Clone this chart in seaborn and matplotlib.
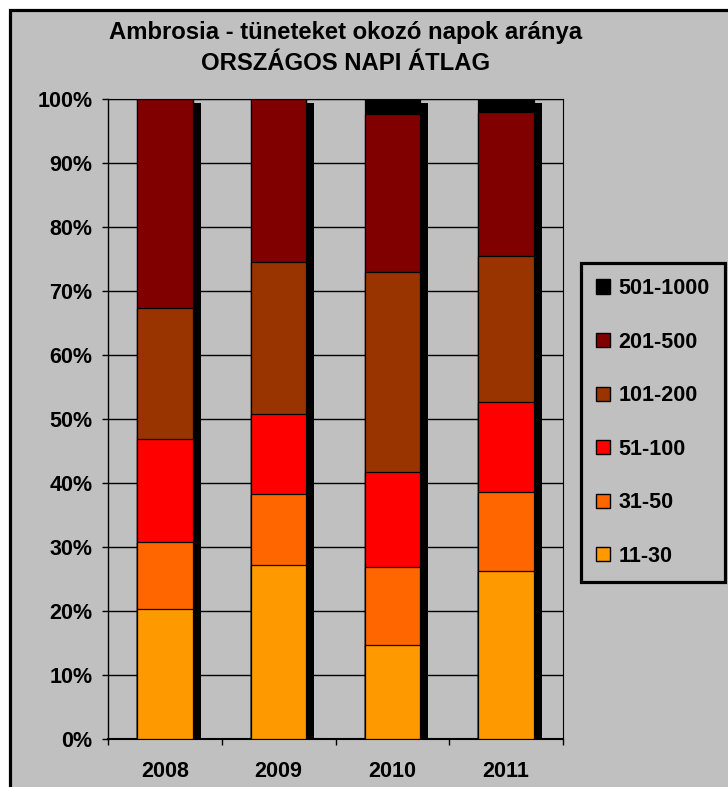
import numpy as np
import pandas as pd
import matplotlib
matplotlib.use("Agg")
import matplotlib.pyplot as plt
import matplotlib.patheffects as pe
from matplotlib.patches import Patch, Rectangle
from matplotlib.ticker import FixedLocator
import seaborn as sns

# ---- data (percent of days) ----
years = ["2008", "2009", "2010", "2011"]
series_names = ["11-30", "31-50", "51-100", "101-200", "201-500", "501-1000"]
s11_30 = [20.4, 27.3, 14.8, 26.3]
s31_50 = [10.4, 11.0, 12.2, 12.3]
s51_100 = [16.2, 12.6, 14.7, 14.1]
s101_200 = [20.4, 23.7, 31.3, 22.8]
s201_500 = [32.6, 25.4, 24.7, 22.5]
s501_1000 = [0.0, 0.0, 2.3, 2.0]
colors = ["#FF9900", "#FF6600", "#FF0000", "#993300", "#800000", "#000000"]
title1 = "Ambrosia - tüneteket okozó napok aránya"
title2 = "ORSZÁGOS NAPI ÁTLAG"
ytick_vals = list(range(0, 101, 10))
ytick_labels = [f"{v}%" for v in ytick_vals]

df = pd.DataFrame({"year": years, "11-30": s11_30, "31-50": s31_50,
                   "51-100": s51_100, "101-200": s101_200,
                   "201-500": s201_500, "501-1000": s501_1000})
cum = df[series_names].cumsum(axis=1)

sns.set_theme(style="white")
plt.rcParams["font.family"] = ["Liberation Sans", "DejaVu Sans"]
plt.rcParams["font.weight"] = "bold"
plt.rcParams["text.color"] = "black"
plt.rcParams["xtick.color"] = "black"
plt.rcParams["ytick.color"] = "black"
FS = 15.5
TFS = 17.2
GRAY = "#C0C0C0"

fig = plt.figure(figsize=(7.28, 7.87), dpi=100, facecolor="white")
# outer chart area with border (top/left visible)
fig.patches.append(Rectangle((9.5 / 728, -0.1), 1.2, 0.1 + (787 - 9.5) / 787,
                             transform=fig.transFigure, facecolor=GRAY,
                             edgecolor="black", linewidth=2.3, zorder=-5))

ax = fig.add_axes([108 / 728, 47.7 / 787, (563 - 108) / 728, 640 / 787])
ax.set_zorder(1)
ax.set_facecolor(GRAY)

# stacked bars: draw cumulative totals from the top series down
for i, name in enumerate(reversed(series_names)):
    col = colors[series_names.index(name)]
    n_before = len(ax.patches)
    sns.barplot(x=df["year"], y=cum[name], color=col, saturation=1,
                width=0.49, edgecolor="black", linewidth=0.9,
                errorbar=None, ax=ax, zorder=3)
    if i == 0:
        for p in ax.patches[n_before:]:
            p.set_path_effects([pe.SimplePatchShadow(offset=(5.6, -3),
                                                     shadow_rgbFace="black",
                                                     alpha=1.0),
                                pe.Normal()])

ax.set_xlim(-0.5, len(years) - 0.5)
ax.set_ylim(0, 100)
ax.set_xlabel("")
ax.set_ylabel("")
ax.set_yticks(ytick_vals)
ax.set_yticklabels(ytick_labels, fontsize=FS, fontweight="bold")
ax.set_xticks(range(len(years)))
ax.set_xticklabels(years, fontsize=FS, fontweight="bold")
ax.xaxis.set_minor_locator(FixedLocator(np.arange(-0.5, len(years), 1.0)))
ax.tick_params(axis="x", which="major", length=0, pad=15.5, colors="black")
ax.tick_params(axis="x", which="minor", length=4.5, width=1.0,
               direction="out", color="black", bottom=True)
ax.tick_params(axis="y", which="major", length=4.5, width=1.0,
               direction="out", color="black", left=True, pad=6.5)
ax.yaxis.grid(True, color="black", linewidth=1.0, zorder=0)
ax.set_axisbelow(True)
for side, lw in [("left", 1.0), ("bottom", 1.5), ("top", 0.8), ("right", 0.8)]:
    ax.spines[side].set_visible(True)
    ax.spines[side].set_color("black")
    ax.spines[side].set_linewidth(lw)

# titles
fig.text(346 / 728, 1 - 32 / 787, title1, ha="center", va="center",
         fontsize=TFS, fontweight="bold", color="black")
fig.text(346 / 728, 1 - 63 / 787, title2, ha="center", va="center",
         fontsize=TFS, fontweight="bold", color="black")

# legend (top series first)
handles = [Patch(facecolor=colors[series_names.index(n)], edgecolor="black",
                 linewidth=1.0, label=n) for n in reversed(series_names)]
leg = fig.legend(handles=handles, loc="center",
                 bbox_to_anchor=(653 / 728, 1 - 422.5 / 787),
                 prop={"size": FS, "weight": "bold"},
                 handlelength=0.65, handleheight=0.65, handletextpad=0.4,
                 labelspacing=1.51, borderpad=0.7, frameon=True,
                 fancybox=False, framealpha=1.0)
leg.get_frame().set_facecolor(GRAY)
leg.get_frame().set_edgecolor("black")
leg.get_frame().set_linewidth(2.3)
for t in leg.get_texts():
    t.set_color("black")

fig.savefig("out.png", dpi=100, facecolor=fig.get_facecolor())
